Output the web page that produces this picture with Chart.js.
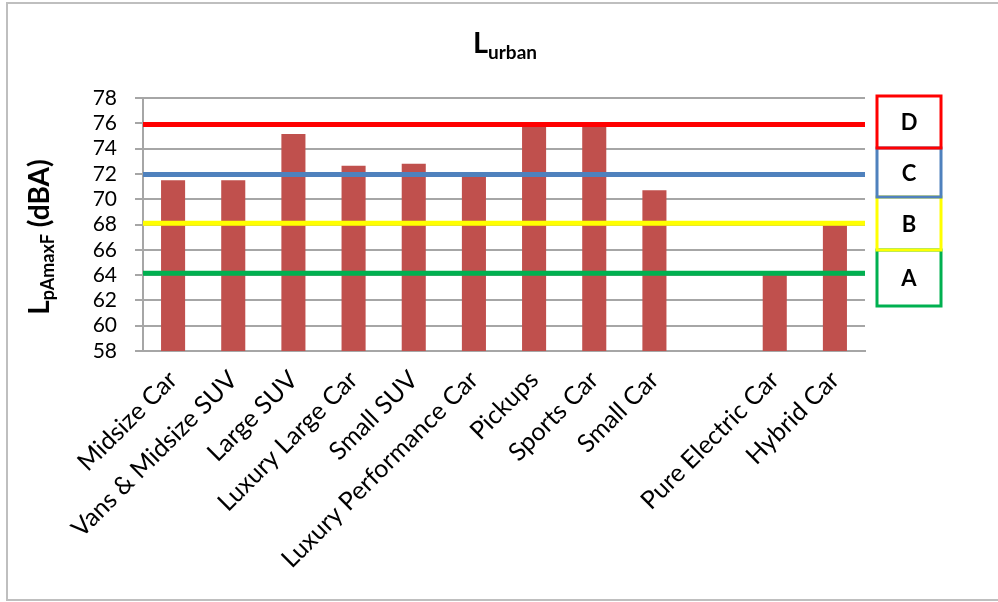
<!DOCTYPE html>
<html>
<head>
<meta charset="utf-8">
<script src="https://cdn.jsdelivr.net/npm/chart.js@4.4.1/dist/chart.umd.min.js"></script>
<style>
  html, body { margin: 0; padding: 0; background: #fff; }
</style>
</head>
<body>
<canvas id="chart" width="998" height="602"></canvas>
<script>
// --- Data ---
const categories = [
  "Midsize Car", "Vans & Midsize SUV", "Large SUV", "Luxury Large Car",
  "Small SUV", "Luxury Performance Car", "Pickups", "Sports Car",
  "Small Car", "", "Pure Electric Car", "Hybrid Car",
];
const levels = [71.5, 71.5, 75.15, 72.65, 72.8, 71.8, 75.9, 75.9, 70.7, null, 64.0, 67.95];

const classNames = ["D", "C", "B", "A"];
const classLimits = [75.9, 71.95, 68.1, 64.15];
const classColors = ["#FF0000", "#4F81BD", "#FFFF00", "#00B050"];

const yMin = 58;
const yMax = 78;
const yStep = 2;

const barColor = "#C0504D";
const gridColor = "#A6A6A6";
const font = "Lato";

// main text + subscript (+ optional tail) centered on (0,0) in the current transform
function drawSubText(ctx, main, sub, tail, mainSize, subSize, subDrop) {
  const mainFont = `bold ${mainSize}px ${font}`;
  const subFont = `bold ${subSize}px ${font}`;
  ctx.font = mainFont;
  const w1 = ctx.measureText(main).width;
  const w3 = tail ? ctx.measureText(tail).width : 0;
  ctx.font = subFont;
  const w2 = ctx.measureText(sub).width;
  let x = -(w1 + w2 + w3) / 2;
  ctx.textAlign = "left";
  ctx.textBaseline = "alphabetic";
  ctx.fillStyle = "#000";
  ctx.font = mainFont;
  ctx.fillText(main, x, 0);
  x += w1;
  ctx.font = subFont;
  ctx.fillText(sub, x, subDrop);
  x += w2;
  if (tail) {
    ctx.font = mainFont;
    ctx.fillText(tail, x, 0);
  }
}

// --- frame, titles and the class boxes on the right ---
const decorations = {
  id: "decorations",
  beforeDraw(chart) {
    const ctx = chart.ctx;
    ctx.save();
    ctx.fillStyle = "#fff";
    ctx.fillRect(0, 0, chart.width, chart.height);
    ctx.strokeStyle = "#BFBFBF";
    ctx.lineWidth = 2;
    ctx.strokeRect(7, 3, chart.width, chart.height - 5);
    ctx.restore();
  },
  afterDraw(chart) {
    const ctx = chart.ctx;
    const area = chart.chartArea;

    // chart title
    ctx.save();
    ctx.translate(505, 53);
    drawSubText(ctx, "L", "urban", "", 29, 19, 6);
    ctx.restore();

    // y axis title
    ctx.save();
    ctx.translate(49, 237);
    ctx.rotate(-Math.PI / 2);
    drawSubText(ctx, "L", "pAmaxF", " (dBA)", 28, 18, 5);
    ctx.restore();

    // class boxes (A drawn first so upper boxes sit on top)
    const edges = [-2, 50, 99, 152, 208];
    const left = area.right + 12;
    const width = 64;
    ctx.save();
    ctx.lineWidth = 3;
    for (let i = classNames.length - 1; i >= 0; i--) {
      const top = area.top + edges[i];
      const bottom = area.top + edges[i + 1];
      ctx.strokeStyle = classColors[i];
      ctx.strokeRect(left, top, width, bottom - top);
      ctx.fillStyle = "#000";
      ctx.font = `bold 22px ${font}`;
      ctx.textAlign = "center";
      ctx.textBaseline = "middle";
      ctx.fillText(classNames[i], left + width / 2, (top + bottom) / 2 + 1);
    }
    ctx.restore();
  },
};

const datasets = [
  {
    type: "bar",
    label: "LpAmaxF",
    data: levels,
    backgroundColor: barColor,
    grouped: false,
    categoryPercentage: 1,
    barPercentage: 0.4,
    order: 2,
  },
];
classLimits.forEach((limit, i) => {
  datasets.push({
    type: "line",
    label: classNames[i],
    xAxisID: "x2",
    data: [{ x: 0, y: limit }, { x: 1, y: limit }],
    borderColor: classColors[i],
    borderWidth: 5,
    pointRadius: 0,
    order: 1,
  });
});

new Chart(document.getElementById("chart"), {
  type: "bar",
  data: { labels: categories, datasets: datasets },
  options: {
    responsive: false,
    animation: false,
    layout: { padding: { left: 0, top: 98, right: 133, bottom: 0 } },
    plugins: {
      legend: { display: false },
      title: { display: false },
      tooltip: { enabled: false },
    },
    scales: {
      x: {
        type: "category",
        grid: { display: false },
        border: { display: true, color: gridColor, width: 2 },
        ticks: {
          autoSkip: false,
          minRotation: 45,
          maxRotation: 45,
          padding: 6,
          color: "#000",
          font: { family: font, size: 25 },
        },
        afterFit(scale) {
          scale.height = 251;
        },
      },
      x2: {
        type: "linear",
        min: 0,
        max: 1,
        offset: false,
        display: false,
      },
      y: {
        min: yMin,
        max: yMax,
        ticks: {
          stepSize: yStep,
          autoSkip: false,
          padding: 18,
          color: "#000",
          font: { family: font, size: 21 },
        },
        grid: { color: gridColor, lineWidth: 2, tickLength: 8 },
        border: { display: true, color: gridColor, width: 2 },
        afterFit(scale) {
          scale.width = 143;
        },
      },
    },
  },
  plugins: [decorations],
});
</script>
</body>
</html>
